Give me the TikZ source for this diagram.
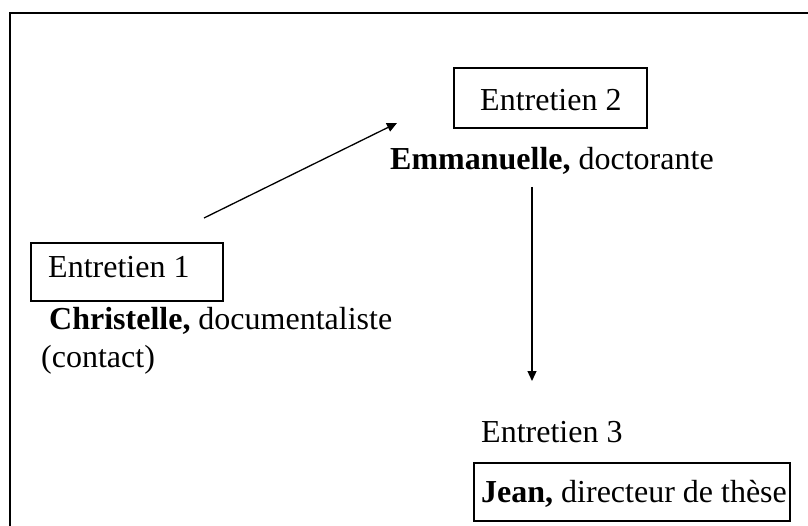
\documentclass[tikz,border=0pt]{standalone}
\usepackage{fontspec}
\setmainfont{Liberation Serif}
\usetikzlibrary{arrows.meta}
\tikzset{
  frameline/.style={line width=2pt, black},
  boxrect/.style={draw, line width=1.3pt, rectangle, inner sep=0pt},
  lbl/.style={anchor=base west, inner sep=0pt, font=\fontsize{32}{38}\selectfont},
  arr/.style={line width=1.3pt, -{Triangle[length=10pt,width=9pt]}},
}
\begin{document}
\begin{tikzpicture}[x=1pt,y=-1pt]
\useasboundingbox (0,0) rectangle (808,526);
% outer frame (top and left visible)
\draw[frameline] (10,526) -- (10,13) -- (808,13);
% boxes
\node[boxrect, minimum width=193pt, minimum height=60pt] (b2) at (550.5,98) {};
\node[boxrect, minimum width=192pt, minimum height=58pt] (b1) at (127,272) {};
\node[boxrect, minimum width=316pt, minimum height=58pt] (b3) at (632,492) {};
% texts
\node[lbl] (e2) at (480,111) {Entretien 2};
\node[lbl] (emm) at (390,170) {\textbf{Emmanuelle,} doctorante};
\node[lbl] (e1) at (48,278) {Entretien 1};
\node[lbl] (chr) at (49,330) {\textbf{Christelle,} documentaliste};
\node[lbl] (con) at (41,367) {(contact)};
\node[lbl] (e3) at (481,442) {Entretien 3};
\node[lbl] (jean) at (481,502) {\textbf{Jean,} directeur de thèse};
% arrows
\coordinate (a1s) at (204,218);
\coordinate (a1e) at (397,123);
\coordinate (a2s) at (532,187);
\coordinate (a2e) at (532,381);
\draw[arr] (a1s) -- (a1e);
\draw[arr] (a2s) -- (a2e);
\end{tikzpicture}
\end{document}
